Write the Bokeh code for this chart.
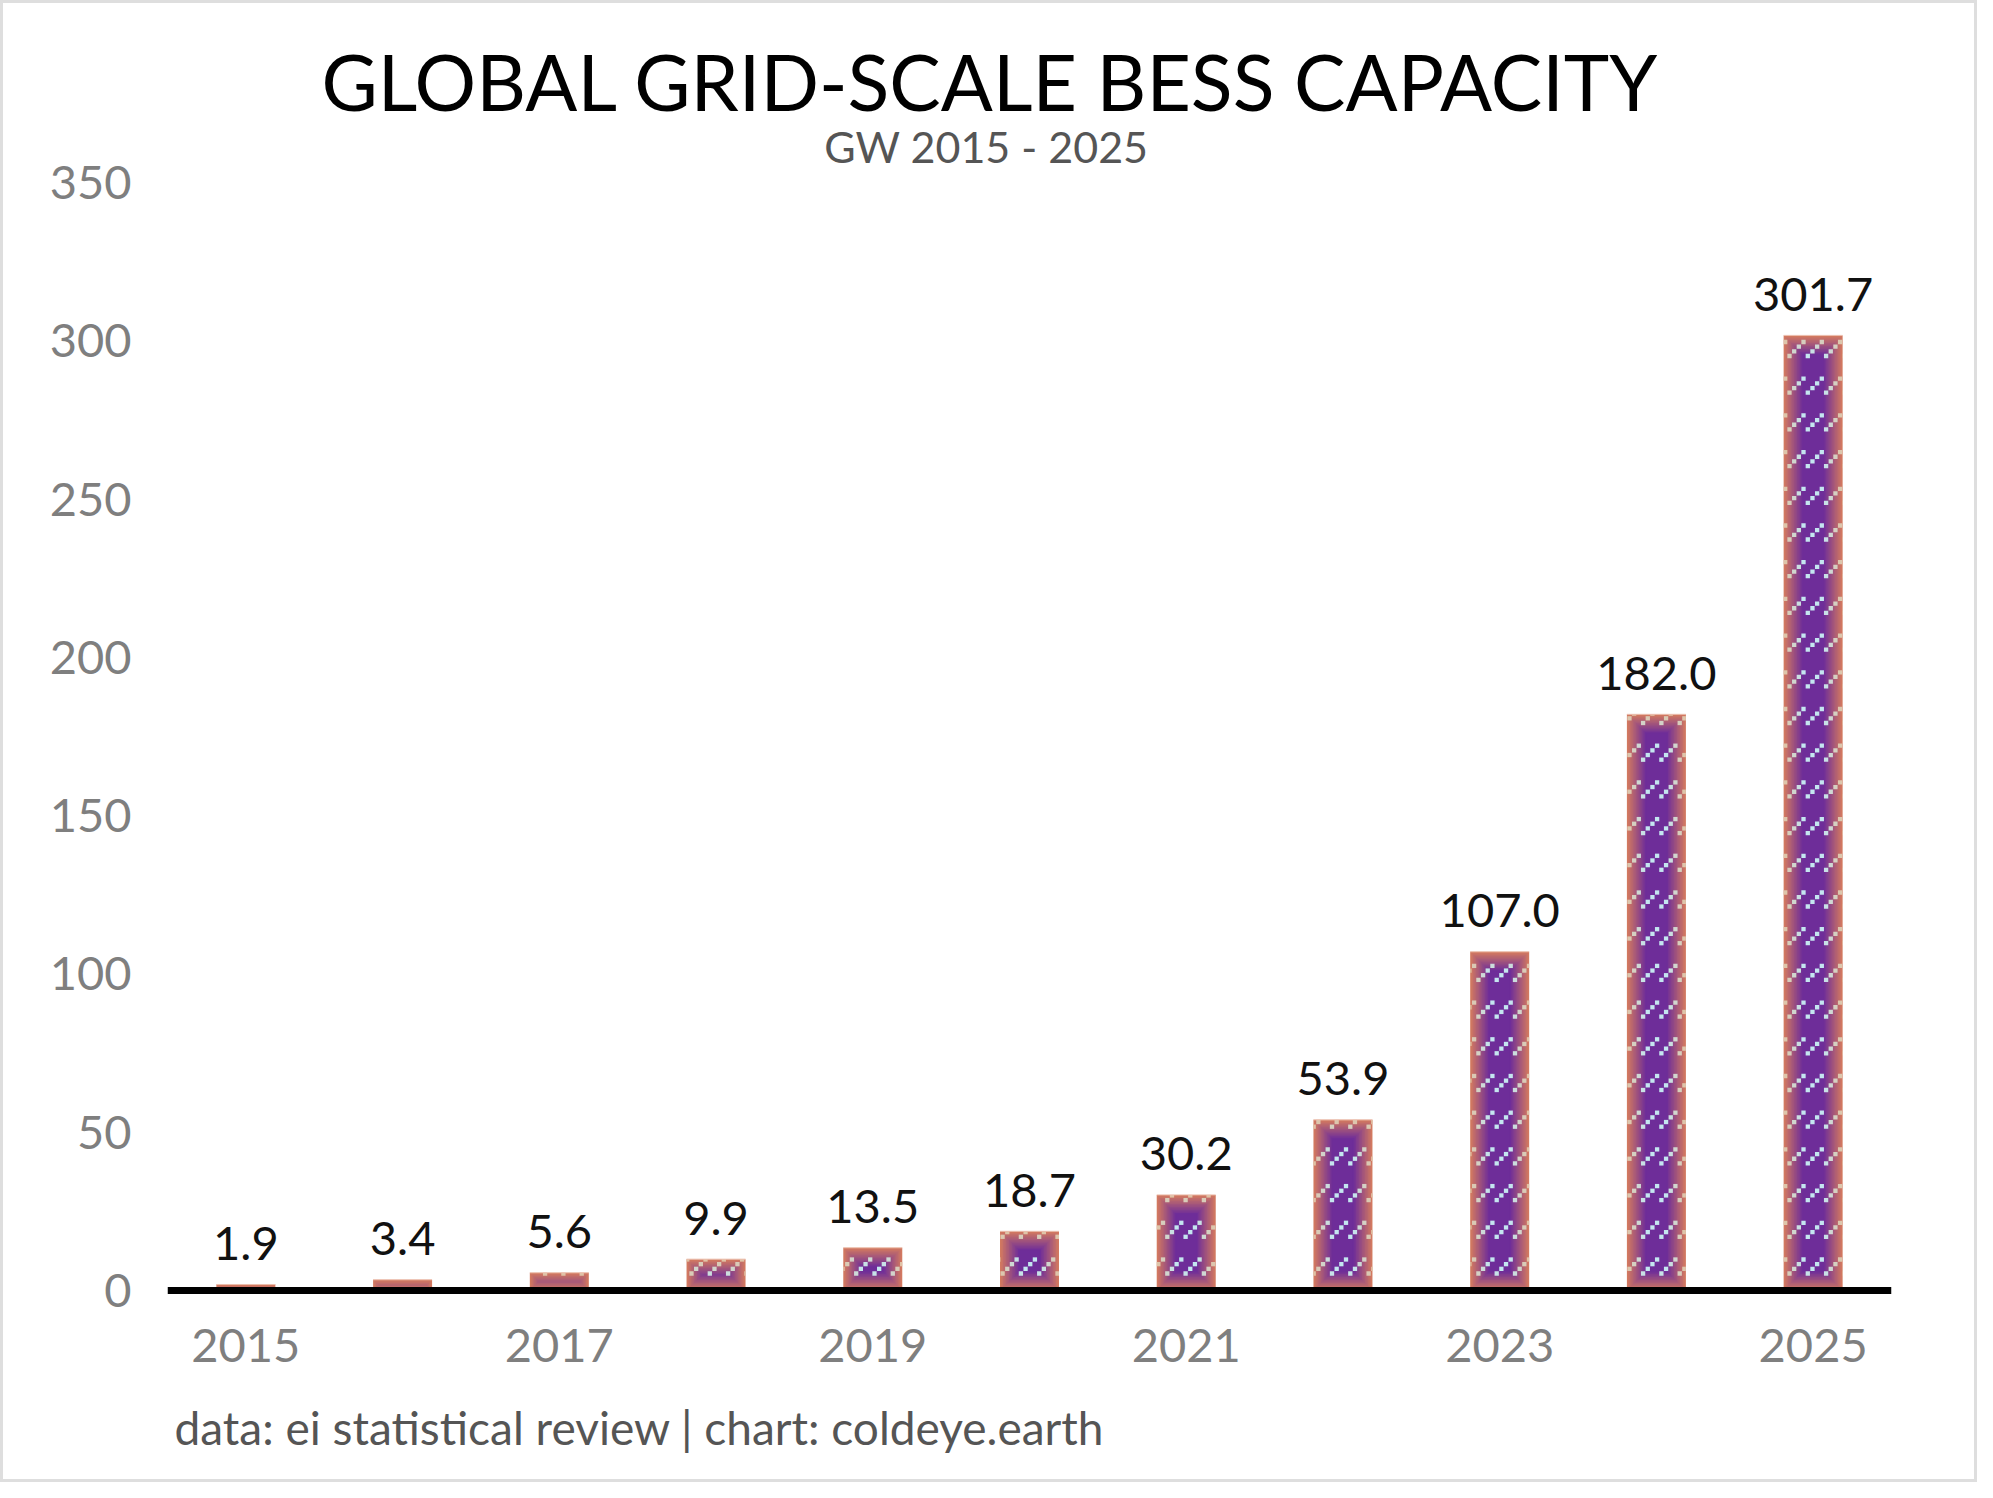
import math
from bokeh.plotting import figure
from bokeh.models import ColumnDataSource, FixedTicker, Label, Range1d
from bokeh.core.properties import value
from bokeh.embed import file_html
from bokeh.resources import INLINE

# ---------------- data ----------------
years = [2015, 2016, 2017, 2018, 2019, 2020, 2021, 2022, 2023, 2024, 2025]
capacity_gw = [1.9, 3.4, 5.6, 9.9, 13.5, 18.7, 30.2, 53.9, 107.0, 182.0, 301.7]
x_tick_years = [2015, 2017, 2019, 2021, 2023, 2025]
y_ticks = [0, 50, 100, 150, 200, 250, 300, 350]

title_text = "GLOBAL GRID-SCALE BESS CAPACITY"
subtitle_text = "GW 2015 - 2025"
footer_text = "data: ei statistical review | chart: coldeye.earth"

# ---------------- layout / style ----------------
FONT = "Lato"
FRAME_W = 1724
PX_Y = 1108 / 350            # pixels per GW (350 GW spans 1108 px)
FRAME_H = 1456               # frame holds title area, bars, tick labels and footer
ZERO_FROM_TOP = 1277         # pixels from frame top down to the 0 baseline
X_START, X_END = 2014.5, 2025.5
Y_END = ZERO_FROM_TOP / PX_Y
Y_START = -(FRAME_H - ZERO_FROM_TOP) / PX_Y
PX_X = FRAME_W / (X_END - X_START)   # pixels per year
BAR_PX = 59.0
HALF = BAR_PX / 2 / PX_X

ORANGE = (214, 124, 94)
PURPLE = (110, 45, 153)
TAN = (224, 194, 164)
ICE = (196, 230, 240)
GRAD_PX = 19.0


def mix(c1, c2, t):
    return "#%02x%02x%02x" % tuple(int(round(a + (b - a) * t)) for a, b in zip(c1, c2))


def tfun(d):
    return min(1.0, max(d, 0.0) / GRAD_PX)


# gradient layers (box gradient: orange at the edges, purple inside)
gl, gr, gb, gt, gc = [], [], [], [], []
STEP = 1.5
for x, v in zip(years, capacity_gw):
    h = v * PX_Y
    hw = BAR_PX / 2
    d = 0.0
    while d < hw and d < h / 2:
        last = d >= GRAD_PX
        col = mix(ORANGE, PURPLE, 1.0 if last else tfun(d + STEP / 2))
        gl.append(x - HALF + d / PX_X)
        gr.append(x + HALF - d / PX_X)
        gb.append(d / PX_Y)
        gt.append(v - d / PX_Y)
        gc.append(col)
        if last:
            break
        d += STEP
grad_src = ColumnDataSource(dict(left=gl, right=gr, bottom=gb, top=gt, color=gc))

# diagonal dotted pattern (global phase)
PHASE_PX = 1457.3
PER_X = 18.3
ROW_PX = 36.7
ROW0 = 17.0
DSTEP = 4.67
DOT = 4.3
dl, dr, db, dt, dc = [], [], [], [], []
for x, v in zip(years, capacity_gw):
    h = v * PX_Y
    bx0 = (x - X_START) * PX_X - BAR_PX / 2
    bx1 = bx0 + BAR_PX
    n0 = int(math.floor((bx0 - PHASE_PX - 3 * DSTEP - DOT) / PER_X))
    n1 = int(math.ceil((bx1 - PHASE_PX) / PER_X))
    k = 0
    while ROW0 + ROW_PX * k - DOT / 2 < h:
        for n in range(n0, n1 + 1):
            for j in range(4):
                cx = PHASE_PX + PER_X * n + DSTEP * j
                cy = ROW0 + ROW_PX * k + DSTEP * j
                l0, r0 = max(cx - DOT / 2, bx0), min(cx + DOT / 2, bx1)
                b0, t0 = max(cy - DOT / 2, 0), min(cy + DOT / 2, h)
                if r0 - l0 <= 0.3 or t0 - b0 <= 0.3:
                    continue
                dist = min(cx - bx0, bx1 - cx, cy, h - cy)
                dl.append(X_START + l0 / PX_X)
                dr.append(X_START + r0 / PX_X)
                db.append(b0 / PX_Y)
                dt.append(t0 / PX_Y)
                dc.append(mix(TAN, ICE, tfun(dist)))
        k += 1
dot_src = ColumnDataSource(dict(left=dl, right=dr, bottom=db, top=dt, color=dc))

bar_src = ColumnDataSource(dict(
    x=years, top=capacity_gw,
    x0=[y - HALF for y in years], x1=[y + HALF for y in years],
    label=["%.1f" % v for v in capacity_gw],
))

# ---------------- figure ----------------
p = figure(
    frame_width=FRAME_W, frame_height=FRAME_H,
    x_range=Range1d(X_START, X_END), y_range=Range1d(Y_START, Y_END),
    output_backend="svg", toolbar_location=None,
    min_border_left=164, min_border_right=83, min_border_top=10, min_border_bottom=10,
    background_fill_color="white", border_fill_color="white",
)
p.styles = {"border": "3px solid #dedede"}
p.outline_line_color = None
p.grid.visible = False

p.quad(left="left", right="right", bottom="bottom", top="top", source=grad_src,
       fill_color="color", line_color=None)
p.quad(left="left", right="right", bottom="bottom", top="top", source=dot_src,
       fill_color="color", line_color=None)
p.segment(x0="x0", x1="x1", y0="top", y1="top", source=bar_src,
          line_color="#ecbfae", line_width=1)

p.text(x="x", y="top", text="label", source=bar_src, y_offset=-41,
       text_align="center", text_baseline="alphabetic",
       text_font=value(FONT), text_font_size="47px", text_color="#111111")

# axes
xa = p.xaxis[0]
xa.fixed_location = 0
xa.ticker = FixedTicker(ticks=x_tick_years)
xa.axis_line_color = "black"
xa.axis_line_width = 7
xa.major_tick_line_color = None
xa.minor_tick_line_color = None
xa.major_label_text_font = FONT
xa.major_label_text_font_size = "47px"
xa.major_label_text_color = "#7f7f7f"
xa.major_label_standoff = 32

ya = p.yaxis[0]
ya.ticker = FixedTicker(ticks=y_ticks)
ya.axis_line_color = None
ya.major_tick_line_color = None
ya.minor_tick_line_color = None
ya.major_label_text_font = FONT
ya.major_label_text_font_size = "47px"
ya.major_label_text_color = "#7f7f7f"
ya.major_label_standoff = 30

# titles and footer (screen units, measured from the frame's bottom-left)
p.add_layout(Label(x=823, y=1389, x_units="screen", y_units="screen", text=title_text,
                   text_font=FONT, text_font_size="77px", text_color="black",
                   text_align="center", text_baseline="alphabetic"))
p.add_layout(Label(x=819, y=1323, x_units="screen", y_units="screen", text=subtitle_text,
                   text_font=FONT, text_font_size="43px", text_color="#555555",
                   text_align="center", text_baseline="alphabetic"))
p.add_layout(Label(x=7, y=42, x_units="screen", y_units="screen", text=footer_text,
                   text_font=FONT, text_font_size="46px", text_color="#555555",
                   text_align="left", text_baseline="alphabetic"))

open("out.html", "w").write(file_html(p, INLINE))
